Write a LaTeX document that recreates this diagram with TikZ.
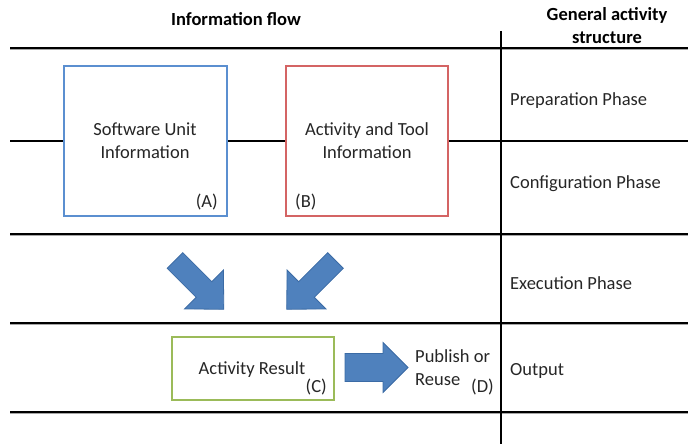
\documentclass[tikz,border=0pt]{standalone}
\usepackage{fontspec}
\setmainfont{Carlito}
\begin{document}
\begin{tikzpicture}[x=1pt,y=-1pt,
  sepline/.style={line width=1.6pt,black},
  shadowline/.style={line width=1.2pt,black!35},
  thinline/.style={line width=1.1pt,black},
  infobox/.style={draw,line width=1.4pt,fill=white,inner sep=0pt},
  lbl/.style={font=\fontsize{18.5}{23}\selectfont,text=black!85,align=center,inner sep=0pt},
  hdr/.style={font=\fontsize{18.5}{23}\selectfont\bfseries,align=center,inner sep=0pt},
  blockarrow/.style={fill=arrowblue,draw=arrowedge,line width=0.8pt,line join=miter}
]
\definecolor{boxblue}{HTML}{5B8FD0}
\definecolor{boxred}{HTML}{D46464}
\definecolor{boxgreen}{HTML}{9BBB59}
\definecolor{arrowblue}{HTML}{4F81BD}
\definecolor{arrowedge}{HTML}{3B6BA5}
\useasboundingbox (0,0) rectangle (688,444);
% coordinates of rules
\coordinate (l1a) at (10,48);  \coordinate (l1b) at (688,48);
\coordinate (l2a) at (10,141); \coordinate (l2b) at (688,141);
\coordinate (l3a) at (10,234); \coordinate (l3b) at (688,234);
\coordinate (l4a) at (10,323); \coordinate (l4b) at (688,323);
\coordinate (l5a) at (10,412); \coordinate (l5b) at (688,412);
\coordinate (vt) at (501,31);  \coordinate (vb) at (501,444);
% shadows
\foreach \n in {l1,l3,l4,l5}{
  \draw[shadowline] ([yshift=-1.8pt]\n a) -- ([yshift=-1.8pt]\n b);
}
\foreach \n in {l1,l3,l4,l5}{
  \draw[sepline] (\n a) -- (\n b);
}
\draw[thinline] (l2a) -- (l2b);
\draw[thinline] (vt) -- (vb);
% headers
\node[hdr] (hflow) at (236,19) {Information flow};
\node[hdr] (hgen) at (607,26) {General activity\\structure};
% phase labels
\node[lbl,anchor=west] (prep) at (510,101) {Preparation Phase};
\node[lbl,anchor=west] (conf) at (510,184) {Configuration Phase};
\node[lbl,anchor=west] (exec) at (510,283) {Execution Phase};
\node[lbl,anchor=west] (outp) at (510,371) {Output};
% boxes
\node[infobox,draw=boxblue,minimum width=163,minimum height=150] (A) at (145.5,141) {};
\node[lbl] (Atext) at (145,141) {Software Unit\\Information};
\node[lbl,anchor=base east] (Alab) at (218,207) {(A)};
\node[infobox,draw=boxred,minimum width=162,minimum height=150] (B) at (367,141) {};
\node[lbl] (Btext) at (367,141) {Activity and Tool\\Information};
\node[lbl,anchor=base west] (Blab) at (295,207) {(B)};
\node[infobox,draw=boxgreen,minimum width=162,minimum height=63] (C) at (253,368.5) {};
\node[lbl] (Ctext) at (252,370) {Activity Result};
\node[lbl,anchor=base east] (Clab) at (327,392) {(C)};
\node[lbl,anchor=west,align=left] (D) at (415,368) {Publish or\\Reuse};
\node[lbl,anchor=base east] (Dlab) at (494,392) {(D)};
% diagonal arrows
\draw[blockarrow] (182.8,252.7) -- (211.8,281.7) -- (223.4,270.1) -- (223.8,309.3)
  -- (184.6,308.9) -- (196.2,297.3) -- (167.2,268.3) -- cycle;
\draw[blockarrow] (327.7,252.7) -- (298.7,281.7) -- (287.1,270.1) -- (286.7,309.3)
  -- (325.9,308.9) -- (314.3,297.3) -- (343.3,268.3) -- cycle;
% horizontal arrow
\draw[blockarrow] (345,353.5) -- (383,353.5) -- (383,342.5) -- (408,367.5)
  -- (383,392.5) -- (383,381.5) -- (345,381.5) -- cycle;
\end{tikzpicture}
\end{document}
